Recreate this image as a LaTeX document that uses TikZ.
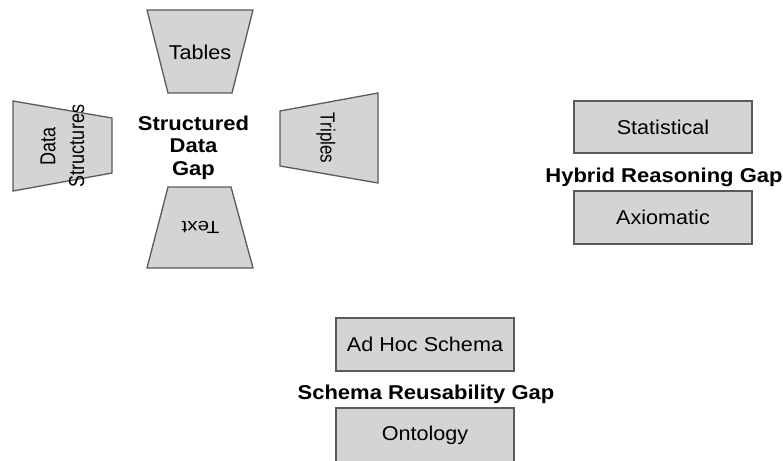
\documentclass[tikz,border=0pt]{standalone}
\usepackage{fontspec}
\setmainfont{Liberation Sans}
\definecolor{boxfill}{HTML}{D4D4D4}
\definecolor{boxline}{HTML}{5A5A5A}
\tikzset{
  shapebox/.style={fill=boxfill, draw=boxline, line width=1.3pt},
  lbl/.style={font=\fontsize{20}{22}\selectfont, inner sep=0pt, text=black, xscale=1.08},
  gaplbl/.style={font=\fontsize{20}{22.5}\selectfont\bfseries, inner sep=0pt, text=black, align=center, xscale=1.1},
  rotlbl/.style={inner sep=0pt, text=black, xscale=1.2},
}
\begin{document}
\begin{tikzpicture}[x=1pt,y=-1pt]
\useasboundingbox (0,0) rectangle (783,460);
\clip (0,0) rectangle (783,460);
% Structured data gap
\draw[shapebox] (147,10) -- (253,10) -- (232,93) -- (168,93) -- cycle;
\draw[shapebox] (168,187) -- (231,187) -- (253,268) -- (147,268) -- cycle;
\draw[shapebox] (13,101) -- (112,118) -- (112,173) -- (13,191) -- cycle;
\draw[shapebox] (280,111) -- (378,93) -- (378,183) -- (280,166) -- cycle;
\node[lbl] (tables) at (200,52.5) {Tables};
\node[rotlbl, xscale=0.975, rotate=180, font=\fontsize{17.5}{20}\selectfont] (text) at (200.5,227) {Text};
\node[rotlbl, rotate=-90, font=\fontsize{17}{20}\selectfont] (triples) at (326,138) {Triples};
\node[rotlbl, rotate=90, align=center, font=\fontsize{18}{24}\selectfont] (ds) at (62.5,146) {Data\\Structures};
\node[gaplbl] (sdg) at (193.5,147.5) {Structured\\Data\\Gap};
% Hybrid reasoning gap
\node[shapebox, minimum width=178pt, minimum height=52pt, inner sep=0pt] (stat) at (663,127) {};
\node[lbl] (statl) at (stat.center) {Statistical};
\node[shapebox, minimum width=178pt, minimum height=53pt, inner sep=0pt] (axio) at (663,217.5) {};
\node[lbl] (axiol) at (axio.center) {Axiomatic};
\node[gaplbl] (hrg) at (664,177) {Hybrid Reasoning Gap};
% Schema reusability gap
\node[shapebox, minimum width=178pt, minimum height=53pt, inner sep=0pt] (adhoc) at (425,344.5) {};
\node[lbl] (adhocl) at (adhoc.center) {Ad Hoc Schema};
\node[shapebox, minimum width=178pt, minimum height=60pt, inner sep=0pt] (onto) at (425,438) {};
\node[lbl] (ontol) at (425,435) {Ontology};
\node[gaplbl] (srg) at (426,394) {Schema Reusability Gap};
\end{tikzpicture}
\end{document}
